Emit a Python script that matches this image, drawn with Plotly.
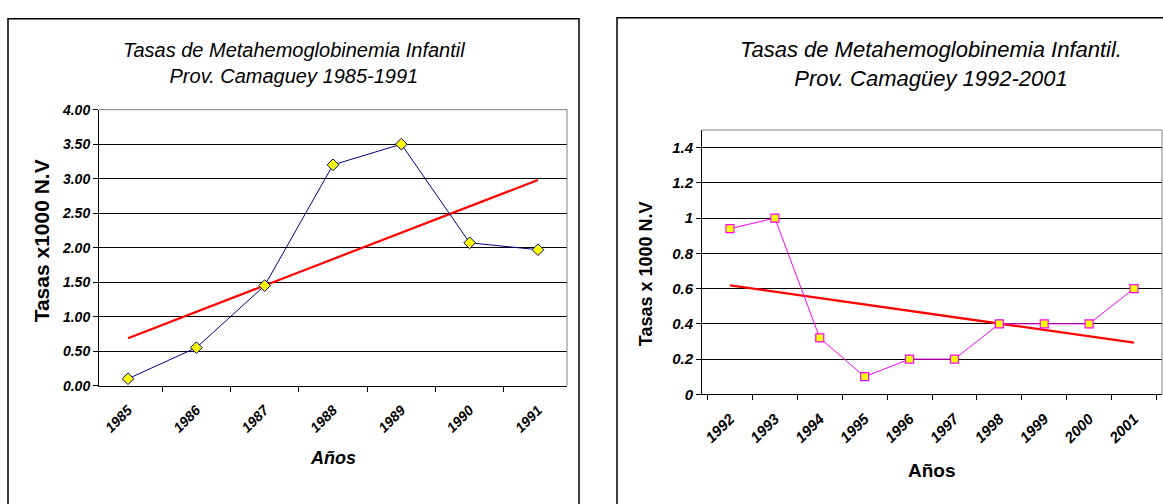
import numpy as np
import plotly.graph_objects as go

W, H = 1163, 504

# ---- data ----
years_a = ["1985", "1986", "1987", "1988", "1989", "1990", "1991"]
rates_a = [0.10, 0.55, 1.45, 3.20, 3.50, 2.07, 1.97]

years_b = ["1992", "1993", "1994", "1995", "1996", "1997", "1998", "1999", "2000", "2001"]
rates_b = [0.94, 1.00, 0.32, 0.10, 0.20, 0.20, 0.40, 0.40, 0.40, 0.60]

title_a = "Tasas de Metahemoglobinemia Infantil<br>Prov. Camaguey 1985-1991"
title_b = "Tasas de Metahemoglobinemia Infantil.<br>Prov. Camagüey 1992-2001"
ytitle_a = "Tasas x1000 N.V"
ytitle_b = "Tasas x 1000 N.V"
xtitle = "Años"


def trend(vals):
    idx = np.arange(len(vals))
    k, b = np.polyfit(idx, vals, 1)
    return list(k * idx + b)


def px(x):
    return x / W


def py(y):
    return (H - y) / H


NARROW = "Liberation Sans Narrow, Arial Narrow, Liberation Sans, Arial, sans-serif"
SANS = "Liberation Sans, Arial, sans-serif"

fig = go.Figure()

# left chart
fig.add_trace(go.Scatter(x=years_a, y=trend(rates_a), mode="lines",
                         line=dict(color="#FF0000", width=2.2),
                         xaxis="x", yaxis="y", hoverinfo="skip"))
fig.add_trace(go.Scatter(x=years_a, y=rates_a, mode="lines+markers",
                         line=dict(color="#000080", width=1),
                         marker=dict(symbol="diamond", size=9, color="#FFFF00",
                                     line=dict(color="#000080", width=1)),
                         xaxis="x", yaxis="y"))

# right chart
fig.add_trace(go.Scatter(x=years_b, y=trend(rates_b), mode="lines",
                         line=dict(color="#FF0000", width=2.4),
                         xaxis="x2", yaxis="y2", hoverinfo="skip"))
fig.add_trace(go.Scatter(x=years_b, y=rates_b, mode="lines+markers",
                         line=dict(color="#FF00FF", width=1),
                         marker=dict(symbol="square", size=8, color="#FFFF00",
                                     line=dict(color="#FF00FF", width=1.2)),
                         xaxis="x2", yaxis="y2"))

common_x = dict(type="category", showgrid=False, showline=True, linecolor="black",
                linewidth=1, ticks="outside", ticklen=5, tickcolor="black",
                tickson="boundaries", tickangle=-45, zeroline=False, fixedrange=True)
common_y = dict(showgrid=True, gridcolor="black", gridwidth=1, showline=True,
                linecolor="black", linewidth=1, ticks="outside", ticklen=5,
                tickcolor="black", zeroline=False, fixedrange=True)

fig.update_layout(
    width=W, height=H,
    margin=dict(l=0, r=0, t=0, b=0),
    paper_bgcolor="white", plot_bgcolor="white",
    showlegend=False,
    xaxis=dict(common_x, domain=[px(99), px(567)], anchor="y",
               tickfont=dict(family=NARROW, size=14, color="black", style="italic", weight="bold"),
               ticklabelstandoff=10),
    yaxis=dict(common_y, domain=[py(390), py(105)], anchor="x", range=[0, 4], dtick=0.5,
               tickformat=".2f",
               tickfont=dict(family=NARROW, size=14, color="black", style="italic", weight="bold")),
    xaxis2=dict(common_x, domain=[px(702), px(1162)], anchor="y2",
                tickfont=dict(family=SANS, size=15, color="black", style="italic", weight="bold"),
                ticklabelstandoff=9),
    yaxis2=dict(common_y, domain=[py(399), py(126)], anchor="x2", range=[0, 1.5], dtick=0.2,
                tickfont=dict(family=SANS, size=15, color="black", style="italic", weight="bold")),
)

shapes = [
    # outer frames
    dict(type="rect", xref="paper", yref="paper", x0=px(8), x1=px(579), y0=-0.05, y1=py(11),
         line=dict(color="black", width=1.5), layer="below"),
    dict(type="rect", xref="paper", yref="paper", x0=px(617), x1=1.05, y0=-0.05, y1=py(10),
         line=dict(color="black", width=1.5), layer="below"),
    # plot-area gray borders (top and right)
    dict(type="line", xref="x domain", yref="y domain", x0=0, x1=1, y0=1, y1=1,
         line=dict(color="#808080", width=1)),
    dict(type="line", xref="x domain", yref="y domain", x0=1, x1=1, y0=0, y1=1,
         line=dict(color="#808080", width=1)),
    dict(type="line", xref="x2 domain", yref="y2 domain", x0=0, x1=1, y0=1, y1=1,
         line=dict(color="#808080", width=1)),
    dict(type="line", xref="x2 domain", yref="y2 domain", x0=1, x1=1, y0=0, y1=1,
         line=dict(color="#808080", width=1)),
]
fig.update_layout(shapes=shapes)

annotations = [
    dict(text=title_a, x=px(294), y=py(57), xref="paper", yref="paper", showarrow=False,
         font=dict(family=NARROW, size=20, color="black", style="italic"),
         xanchor="center", yanchor="middle"),
    dict(text=title_b, x=px(931), y=py(58), xref="paper", yref="paper", showarrow=False,
         font=dict(family=SANS, size=22, color="black", style="italic"),
         xanchor="center", yanchor="middle"),
    dict(text=ytitle_a, x=px(41), y=py(241), xref="paper", yref="paper", showarrow=False,
         textangle=-90, font=dict(family=SANS, size=21, color="black", weight="bold"),
         xanchor="center", yanchor="middle"),
    dict(text=ytitle_b, x=px(646), y=py(275), xref="paper", yref="paper", showarrow=False,
         textangle=-90, font=dict(family=SANS, size=18, color="black", weight="bold"),
         xanchor="center", yanchor="middle"),
    dict(text=xtitle, x=px(333), y=py(465), xref="paper", yref="paper", showarrow=False,
         font=dict(family=SANS, size=18, color="black", style="italic", weight="bold"),
         xanchor="center", yanchor="middle"),
    dict(text=xtitle, x=px(932), y=py(478), xref="paper", yref="paper", showarrow=False,
         font=dict(family=SANS, size=19, color="black", weight="bold"),
         xanchor="center", yanchor="middle"),
]
fig.update_layout(annotations=annotations)

fig.write_html("out.html", config={"displayModeBar": False},
               post_script="document.body.style.margin='0';")
